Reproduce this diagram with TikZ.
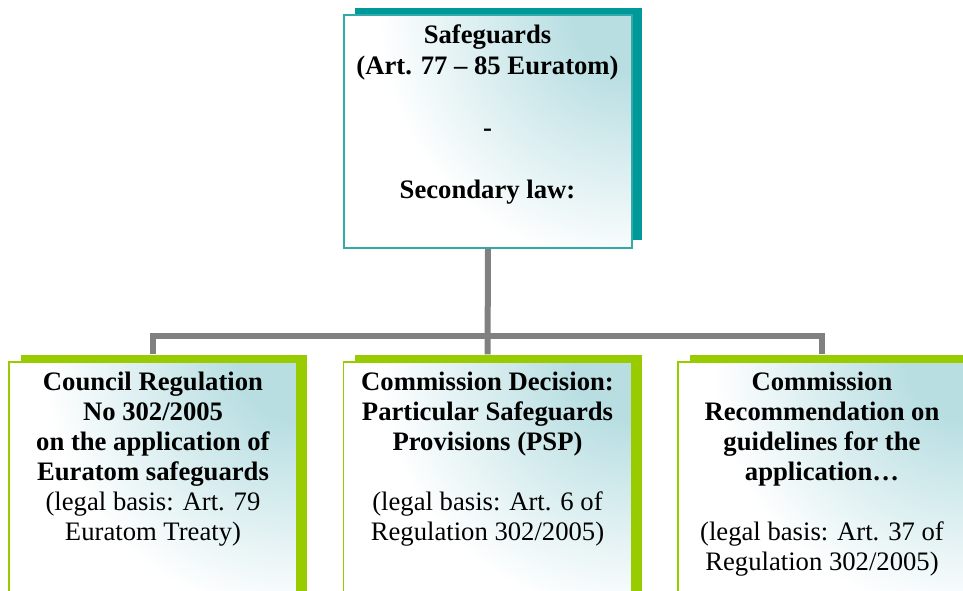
\documentclass[tikz,border=0pt]{standalone}
\usepackage{fontspec}
\setmainfont{Liberation Serif}
\definecolor{tealdark}{RGB}{0,153,153}
\definecolor{tealline}{RGB}{51,170,170}
\definecolor{teallight}{RGB}{184,222,226}
\definecolor{greenbar}{RGB}{153,204,0}
\definecolor{conngray}{RGB}{128,128,128}
\pgfdeclareradialshading{cornerglow}{\pgfpoint{0bp}{0bp}}{color(0bp)=(teallight); color(5bp)=(teallight); color(22bp)=(white); color(25bp)=(white); color(50bp)=(white)}
\begin{document}
\begin{tikzpicture}[x=0.75pt,y=-0.75pt,
  mainbox/.style={rectangle, draw=#1, line width=1pt, fill=white, inner sep=0pt,
    minimum width=216pt,
    path picture={\shade[shading=cornerglow]
      (path picture bounding box.north east) circle (215pt);}},
  topbox/.style={mainbox=tealline, minimum height=174.75pt},
  lowbox/.style={mainbox=greenbar, minimum height=201pt},
  txt/.style={align=center, inner sep=0pt, text=black, font=\fontsize{20}{22.5}\selectfont},
  toptxt/.style={align=center, inner sep=0pt, text=black, font=\bfseries\fontsize{20}{23.25}\selectfont},
  conn/.style={draw=conngray, line width=4.5pt}
]
\useasboundingbox (0,0) rectangle (963,591);
\clip (0,0) rectangle (963,591);
\fill[white] (0,0) rectangle (963,591);

% shadows
\fill[tealdark] (355,8) rectangle (642,240);
\fill[greenbar] (21,355) rectangle (307,640);
\fill[greenbar] (355,355) rectangle (642,640);
\fill[greenbar] (690,355) rectangle (980,640);

% boxes
\node[topbox] (top) at (488,131.5) {};
\node[lowbox] (left) at (153,496) {};
\node[lowbox] (mid) at (487.5,496) {};
\node[lowbox] (right) at (822,496) {};

% connectors
\coordinate (bus) at (487.5,336);
\draw[conn, shorten <=5.25pt, shorten >=5.25pt] (left.north) |- (bus) -| (right.north);
\draw[conn, shorten >=5.25pt] (top.south) -- (mid.north);

% texts
\node[toptxt, anchor=north] (ttop) at (487.5,24.5)
  {Safeguards\\(Art. 77 -- 85 Euratom)\\[23.25pt]-\\[23.25pt]Secondary law:};
\node[txt, anchor=north] (tleft) at (153,372)
  {\textbf{Council Regulation}\\\textbf{No 302/2005}\\\textbf{on the application of}\\\textbf{Euratom safeguards}\\(legal basis: Art. 79\\Euratom Treaty)};
\node[txt, anchor=north] (tmid) at (487.5,372)
  {\textbf{Commission Decision:}\\\textbf{Particular Safeguards}\\\textbf{Provisions (PSP)}\\[22.5pt](legal basis: Art. 6 of\\Regulation 302/2005)};
\node[txt, anchor=north] (tright) at (822,372)
  {\textbf{Commission}\\\textbf{Recommendation on}\\\textbf{guidelines for the}\\\textbf{application…}\\[22.5pt](legal basis: Art. 37 of\\Regulation 302/2005)};
\end{tikzpicture}
\end{document}
